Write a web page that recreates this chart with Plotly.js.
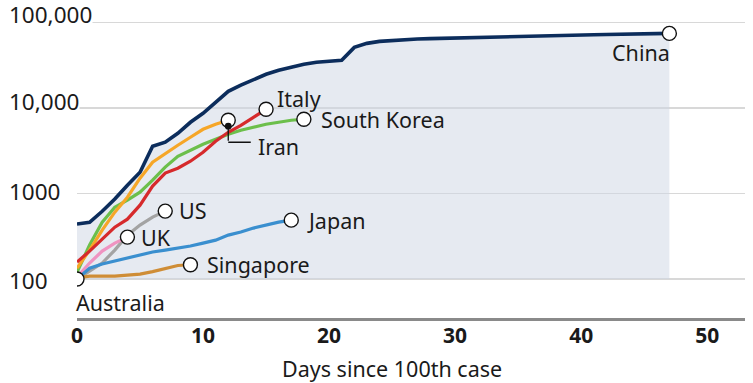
<!DOCTYPE html>
<html>
<head>
<meta charset="utf-8">
<script src="https://cdn.plot.ly/plotly-3.0.1.min.js"></script>
<style>html,body{margin:0;padding:0;background:#fff;}#chart{width:753px;height:383px;}</style>
</head>
<body>
<div id="chart"></div>
<script>
// ---- Data (confirmed cases, by days since 100th case) ----
const china = [440, 460, 620, 860, 1250, 1770, 3560, 3970, 5050, 6790, 8650, 11600, 15600, 18400, 21600, 24700, 27500, 29800, 32300, 34100, 35000, 35900, 50900, 56700, 59800, 61500, 63200, 63800, 64400, 65000, 65700, 66500, 67000, 67700, 68400, 68800, 69400, 69800, 70200, 70700, 71100, 71500, 71900, 72400, 72900, 73300, 73800, 74200];
const italy = [158, 212, 293, 404, 501, 730, 1220, 1730, 1970, 2380, 3030, 4080, 5190, 6260, 7760, 9630];
const iran = [134, 218, 373, 605, 905, 1510, 2320, 2950, 3660, 4540, 5620, 6440, 7170];
const southKorea = [120, 250, 462, 692, 836, 1035, 1430, 2030, 2720, 3200, 3760, 4300, 4920, 5480, 5940, 6440, 6790, 7170, 7360];
const us = [100, 124, 154, 218, 326, 427, 529, 622];
const uk = [105, 154, 212, 263, 309];
const japan = [100, 134, 150, 162, 176, 191, 207, 218, 230, 243, 263, 285, 326, 354, 394, 427, 462, 488];
const singapore = [103, 108, 108, 108, 111, 114, 122, 134, 144, 147];
const australia = [100];
const baseline = 100;

const xTicks = [0, 10, 20, 30, 40, 50];
const yTickVals = [100, 1000, 10000, 100000];
const yTickText = ['100', '1000', '10,000', '100,000'];
const xTitle = 'Days since 100th case';

// ---- Styling ----
const FONT = '"Noto Sans", "Open Sans", sans-serif';
const TXT = '#1a1a1a';
const days = arr => arr.map((_, i) => i);
const last = arr => arr[arr.length - 1];

const series = [
  {name: 'South Korea', data: southKorea, color: '#6cbf4b', label: {xshift: 15, yshift: 0}},
  {name: 'Iran', data: iran, color: '#f6a627', label: null},
  {name: 'Italy', data: italy, color: '#d62a2c', label: {xshift: 9, yshift: 11}},
  {name: 'US', data: us, color: '#a3a3a3', label: {xshift: 12, yshift: 1}},
  {name: 'UK', data: uk, color: '#ef93c1', label: {xshift: 12, yshift: 0}},
  {name: 'Japan', data: japan, color: '#3a8fcf', label: {xshift: 14, yshift: 0}},
  {name: 'Singapore', data: singapore, color: '#cf8d36', label: {xshift: 15, yshift: 0}}
];

const traces = [];
// shaded area under China
const cx = days(china);
traces.push({
  x: cx.concat([last(cx), 0]),
  y: china.concat([baseline, baseline]),
  fill: 'toself', fillcolor: 'rgba(208,214,228,0.52)',
  mode: 'lines', line: {width: 0}, hoverinfo: 'skip', showlegend: false
});
traces.push({
  x: cx, y: china, mode: 'lines',
  line: {color: '#0c2d5c', width: 3.6}, showlegend: false
});
series.forEach(s => {
  traces.push({x: days(s.data), y: s.data, mode: 'lines',
    line: {color: s.color, width: 3.2}, showlegend: false});
});
// end markers
const all = [china].concat(series.map(s => s.data)).concat([australia]);
traces.push({
  x: all.map(a => a.length - 1), y: all.map(a => last(a)),
  mode: 'markers', showlegend: false,
  marker: {size: 14, color: '#ffffff', line: {color: '#111', width: 1.4}}
});

const annotations = [];
const lab = (text, xv, yv, xanchor, xshift, yshift) => ({
  x: xv, y: Math.log10(yv), xref: 'x', yref: 'y', text: text, showarrow: false,
  xanchor: xanchor, yanchor: 'middle', xshift: xshift, yshift: yshift,
  font: {family: FONT, size: 21.5, color: TXT}
});
series.forEach(s => {
  if (s.label) annotations.push(lab(s.name, s.data.length - 1, last(s.data), 'left', s.label.xshift, s.label.yshift));
});
annotations.push(lab('China', china.length - 1, last(china), 'right', 3, -19));
annotations.push(lab('Australia', 0, australia[0], 'left', -3, -23));
annotations.push(lab('Iran', iran.length - 1, last(iran), 'left', 28, -26));
// Iran leader line
annotations.push({x: iran.length - 1, y: Math.log10(last(iran)), xref: 'x', yref: 'y', text: '',
  showarrow: true, ax: 0, ay: 22, arrowhead: 6, arrowsize: 1.3, arrowwidth: 1.3, arrowcolor: '#111', standoff: 6});
annotations.push({x: iran.length - 1, y: Math.log10(last(iran)), xref: 'x', yref: 'y', text: '',
  showarrow: true, ax: 24, ay: 0, yshift: -22, arrowhead: 0, arrowwidth: 1.3, arrowcolor: '#111', standoff: 0});

// y tick labels (left aligned)
const yLabShift = [-1.5, 1.5, 6, 8];
yTickVals.forEach((v, i) => {
  annotations.push({x: -0.1033, xref: 'paper', y: Math.log10(v), yref: 'y', text: yTickText[i],
    showarrow: false, xanchor: 'left', yanchor: 'middle', yshift: yLabShift[i],
    bgcolor: '#ffffff', borderpad: 0,
    font: {family: FONT, size: 22.5, color: TXT}});
});
// x axis title
annotations.push({x: 0.4716, xref: 'paper', y: -0.16, yref: 'paper', text: xTitle,
  showarrow: false, xanchor: 'center', yanchor: 'middle',
  font: {family: FONT, size: 21.5, color: TXT}});

const layout = {
  width: 753, height: 383,
  margin: {l: 77, r: 8, t: 5, b: 65},
  paper_bgcolor: '#ffffff', plot_bgcolor: '#ffffff',
  showlegend: false,
  xaxis: {
    range: [0, 53], tickvals: xTicks, ticktext: xTicks.map(String),
    showgrid: false, zeroline: false, showline: true, linecolor: '#8a8a8a', linewidth: 3,
    ticks: '', ticklabelstandoff: -3,
    tickfont: {family: FONT, size: 21, color: TXT, weight: 'bold'}
  },
  yaxis: {
    type: 'log', range: [1.545, 5.202], tickvals: yTickVals, showticklabels: false,
    showgrid: true, gridcolor: '#d8d8d8', gridwidth: 1.5, zeroline: false, showline: false, ticks: ''
  },
  annotations: annotations
};

Plotly.newPlot('chart', traces, layout, {displayModeBar: false, staticPlot: true});
</script>
</body>
</html>
